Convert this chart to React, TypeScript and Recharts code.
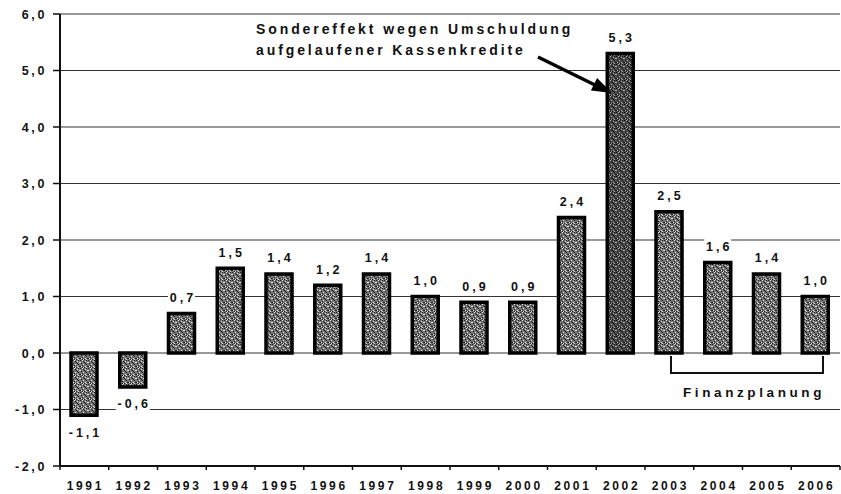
import React from 'react';
import { BarChart, Bar, XAxis, YAxis, CartesianGrid, LabelList, Cell } from 'recharts';

const years = ['1991', '1992', '1993', '1994', '1995', '1996', '1997', '1998', '1999', '2000', '2001', '2002', '2003', '2004', '2005', '2006'];
const values = [-1.1, -0.6, 0.7, 1.5, 1.4, 1.2, 1.4, 1.0, 0.9, 0.9, 2.4, 5.3, 2.5, 1.6, 1.4, 1.0];
const yTicks = [-2, -1, 0, 1, 2, 3, 4, 5, 6];
const annotationLines = ['Sondereffekt wegen Umschuldung', 'aufgelaufener Kassenkredite'];
const planningLabel = 'Finanzplanung';
const highlightYear = '2002';

const data = years.map((year, i) => ({ year, value: values[i] }));

const FONT = '"Liberation Sans", Arial, sans-serif';
const W = 841;
const H = 494;
const M = { top: 14, right: 1, bottom: 0, left: 0 };
const Y_AXIS_W = 60;
const X_AXIS_H = 28;
const BAND = (W - M.left - M.right - Y_AXIS_W) / years.length;

const fmt = (v: number) => v.toFixed(1).replace('.', ',');

const YTick = (props: any) => {
  const { x, y, payload } = props;
  return (
    <text x={x + 2} y={y} dy={4.5} textAnchor="end" fontFamily={FONT} fontWeight={700} fontSize={12.5} letterSpacing={2.6} fill="#111">
      {fmt(payload.value)}
    </text>
  );
};

const XTick = (props: any) => {
  const { x, y, payload, index } = props;
  const axisY = y - 8;
  return (
    <g>
      <line x1={x - BAND / 2} x2={x - BAND / 2} y1={axisY} y2={axisY + 4} stroke="#111" strokeWidth={1.5} />
      {index === years.length - 1 && (
        <line x1={x + BAND / 2} x2={x + BAND / 2} y1={axisY} y2={axisY + 4} stroke="#111" strokeWidth={1.5} />
      )}
      <text x={x + 1} y={y} dy={16} textAnchor="middle" fontFamily={FONT} fontWeight={700} fontSize={12} letterSpacing={2.6} fill="#111">
        {payload.value}
      </text>
    </g>
  );
};

const ValueLabel = (props: any) => {
  const { x, y, width, height, value } = props;
  const top = Math.min(y, y + height);
  const bottom = Math.max(y, y + height);
  const cx = x + width / 2;
  const ty = value >= 0 ? top - 16 : bottom + 17;
  const label = fmt(value);
  const w = label.length * 7 + 6;
  return (
    <g>
      <rect x={cx - w / 2} y={ty - 8} width={w} height={15} fill="#fff" />
      <text x={cx + 1.5} y={ty} dy={4.5} textAnchor="middle" fontFamily={FONT} fontWeight={700} fontSize={12.5} letterSpacing={3} fill="#111">
        {label}
      </text>
    </g>
  );
};

const speckDark: [number, number][] = [[0, 0], [3, 1], [6, 0], [1, 3], [5, 3], [2, 5], [7, 6], [4, 7], [0, 6], [6, 4], [4, 2], [2, 7]];
const speckLight: [number, number][] = [[2, 0], [5, 1], [0, 2], [7, 2], [3, 4], [1, 6], [5, 6], [3, 7], [6, 7]];

export default function App() {
  return (
    <div style={{ position: 'absolute', left: 0, top: 0, width: W, height: H, background: '#fff' }}>
      <svg width={0} height={0} style={{ position: 'absolute' }}>
        <defs>
          <pattern id="speck" width={8} height={8} patternUnits="userSpaceOnUse">
            <rect width={8} height={8} fill="#757575" />
            {speckDark.map(([a, b], i) => <rect key={'d' + i} x={a} y={b} width={1} height={1} fill="#1e1e1e" />)}
            {speckLight.map(([a, b], i) => <rect key={'l' + i} x={a} y={b} width={1} height={1} fill="#dcdcdc" />)}
          </pattern>
          <pattern id="speckDark" width={8} height={8} patternUnits="userSpaceOnUse">
            <rect width={8} height={8} fill="#4a4a4a" />
            {speckDark.map(([a, b], i) => <rect key={'d' + i} x={a} y={b} width={1} height={1} fill="#0e0e0e" />)}
            {speckLight.map(([a, b], i) => <rect key={'l' + i} x={a} y={b} width={1} height={1} fill="#a8a8a8" />)}
          </pattern>
        </defs>
      </svg>
      <BarChart width={W} height={H} data={data} margin={M}>
        <CartesianGrid vertical={false} stroke="#333" strokeWidth={1.2} />
        <XAxis
          dataKey="year"
          height={X_AXIS_H}
          axisLine={{ stroke: '#111', strokeWidth: 2 }}
          tickLine={false}
          tickSize={6}
          tickMargin={2}
          tick={<XTick />}
          interval={0}
        />
        <YAxis
          type="number"
          domain={[-2, 6]}
          ticks={yTicks}
          width={Y_AXIS_W}
          axisLine={{ stroke: '#111', strokeWidth: 2 }}
          tickLine={{ stroke: '#111', strokeWidth: 1.5 }}
          tickSize={7}
          tickMargin={8}
          tick={<YTick />}
          interval={0}
        />
        <Bar dataKey="value" barSize={26} stroke="#000" strokeWidth={3.5} isAnimationActive={false}>
          {data.map((d) => (
            <Cell key={d.year} fill={d.year === highlightYear ? 'url(#speckDark)' : 'url(#speck)'} />
          ))}
          <LabelList dataKey="value" content={<ValueLabel />} />
        </Bar>
      </BarChart>
      <svg width={W} height={H} style={{ position: 'absolute', left: 0, top: 0, pointerEvents: 'none' }}>
        <text x={256} y={34} fontFamily={FONT} fontWeight={700} fontSize={14} letterSpacing={2.9} fill="#111">
          {annotationLines[0]}
        </text>
        <text x={256} y={55} fontFamily={FONT} fontWeight={700} fontSize={14} letterSpacing={2.9} fill="#111">
          {annotationLines[1]}
        </text>
        <line x1={538} y1={57} x2={597} y2={86} stroke="#000" strokeWidth={3.5} />
        <polygon points="612,93 590.9,90.6 597.1,78.0" fill="#000" />
        <path d="M671,356 V373 H823 V356" fill="none" stroke="#111" strokeWidth={2} />
        <text x={683} y={397} fontFamily={FONT} fontWeight={700} fontSize={13.5} letterSpacing={3.6} fill="#111">
          {planningLabel}
        </text>
      </svg>
    </div>
  );
}
